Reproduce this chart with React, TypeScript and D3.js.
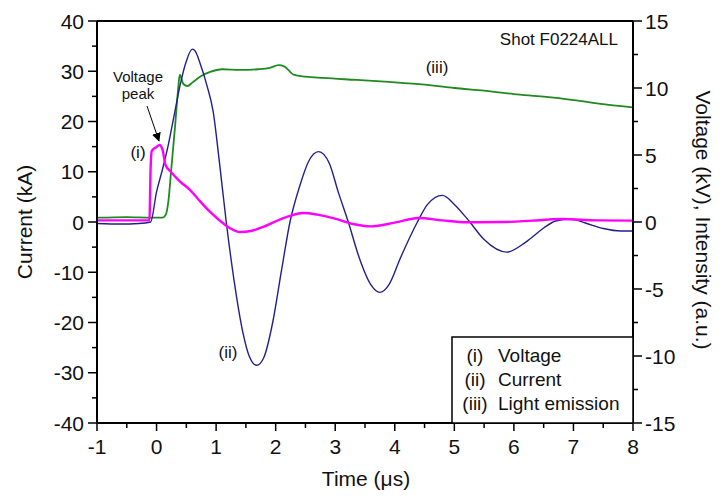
import React from "react";
import * as d3 from "d3";

// ---- data ----
const timeCurrent = [-1, -0.6, -0.3, -0.1, 0.0, 0.1, 0.2, 0.3, 0.4, 0.5, 0.6, 0.65, 0.73, 0.85, 0.95, 1.05, 1.17, 1.3, 1.45, 1.55, 1.68, 1.8, 1.95, 2.1, 2.24, 2.4, 2.55, 2.72, 2.9, 3.05, 3.22, 3.4, 3.6, 3.75, 3.9, 4.1, 4.38, 4.55, 4.8, 5.0, 5.26, 5.5, 5.88, 6.2, 6.5, 6.7, 6.95, 7.2, 7.5, 7.8, 8.0];
const current = [-0.3, -0.4, -0.3, 0, 6, 10.5, 15.5, 21.5, 27.5, 32, 34.4, 34, 31.6, 27, 22, 12.5, 0, -11.5, -22, -26.5, -28.5, -27, -20, -9.5, 0, 7, 12, 14, 11.7, 6, 0, -7, -12.5, -14, -12.5, -7, 0, 3.5, 5.3, 3.5, 0, -3.5, -6, -4, -1.2, 0.2, 0.6, -0.2, -1.3, -1.8, -1.8];

const timeVoltage = [-1, -0.5, -0.12, -0.1, -0.08, 0.0, 0.05, 0.1, 0.15, 0.25, 0.4, 0.56, 0.7, 0.9, 1.05, 1.23, 1.4, 1.6, 1.79, 2.0, 2.2, 2.46, 2.7, 3.0, 3.3, 3.6, 4.0, 4.4, 4.8, 5.2, 5.8, 6.3, 6.8, 7.4, 8.0];
const voltage = [0.12, 0.12, 0.12, 4.0, 5.3, 5.6, 5.75, 5.4, 4.25, 3.7, 3.0, 2.4, 1.7, 0.75, 0.15, -0.45, -0.75, -0.65, -0.37, 0.05, 0.4, 0.67, 0.55, 0.25, -0.15, -0.33, -0.05, 0.3, 0.12, -0.02, 0.0, 0.1, 0.22, 0.12, 0.1];

const timeLight = [-1, -0.5, -0.1, 0.1, 0.15, 0.2, 0.25, 0.31, 0.36, 0.39, 0.45, 0.52, 0.6, 0.75, 0.9, 1.1, 1.4, 1.7, 1.9, 2.05, 2.15, 2.3, 2.5, 2.8, 3.36, 3.9, 4.5, 5.0, 5.5, 6.0, 6.5, 7.0, 7.5, 8.0];
const light = [0.32, 0.37, 0.33, 0.33, 0.5, 1.6, 4.1, 7.1, 9.8, 11.0, 10.3, 10.15, 10.4, 10.9, 11.2, 11.4, 11.35, 11.4, 11.5, 11.7, 11.6, 11.0, 10.85, 10.75, 10.6, 10.45, 10.25, 10.0, 9.8, 9.55, 9.35, 9.1, 8.8, 8.55];

const xTicks = [-1, 0, 1, 2, 3, 4, 5, 6, 7, 8];
const leftTicks = [-40, -30, -20, -10, 0, 10, 20, 30, 40];
const rightTicks = [-15, -10, -5, 0, 5, 10, 15];
const legendTags = ["(i)", "(ii)", "(iii)"];
const legendNames = ["Voltage", "Current", "Light emission"];

const FONT = "'Liberation Sans', Arial, sans-serif";

export default function App() {
  const W = 723, H = 496;
  const L = 97, R = 633, T = 21, B = 423;
  const x = d3.scaleLinear().domain([-1, 8]).range([L, R]);
  const yL = d3.scaleLinear().domain([-40, 40]).range([B, T]);
  const yR = d3.scaleLinear().domain([-15, 15]).range([B, T]);

  const lineCurrent = d3.line<number>().x((_, i) => x(timeCurrent[i])).y((d) => yL(d)).curve(d3.curveMonotoneX);
  const lineVoltage = d3.line<number>().x((_, i) => x(timeVoltage[i])).y((d) => yR(d)).curve(d3.curveMonotoneX);
  const lineLight = d3.line<number>().x((_, i) => x(timeLight[i])).y((d) => yR(d)).curve(d3.curveMonotoneX);

  const xMinor = d3.range(-1, 8.001, 0.5).filter((v) => !xTicks.includes(v));
  const lMinor = d3.range(-40, 40.001, 5).filter((v) => !leftTicks.includes(v));
  const rMinor = d3.range(-15, 15.001, 2.5).filter((v) => !rightTicks.includes(v));

  return (
    <svg width={W} height={H} style={{ position: "absolute", left: 0, top: 0, background: "#fff" }} fontFamily={FONT}>
      <defs>
        <marker id="arr" viewBox="0 0 10 10" refX="9" refY="5" markerWidth="9" markerHeight="9" orient="auto" markerUnits="userSpaceOnUse">
          <path d="M0,0 L10,5 L0,10 z" fill="#000" />
        </marker>
        <clipPath id="clip"><rect x={L} y={T} width={R - L} height={B - T} /></clipPath>
      </defs>
      <rect x={0} y={0} width={W} height={H} fill="#fff" />

      {/* data */}
      <g clipPath="url(#clip)" fill="none">
        <path d={lineLight(light) || ""} stroke="#1f8a1f" strokeWidth={1.8} />
        <path d={lineCurrent(current) || ""} stroke="#20208c" strokeWidth={1.4} />
        <path d={lineVoltage(voltage) || ""} stroke="#ff00ff" strokeWidth={2.4} />
      </g>

      {/* frame */}
      <line x1={L} x2={R} y1={T} y2={T} stroke="#000" strokeWidth={2} />
      <line x1={L} x2={R} y1={B} y2={B} stroke="#000" strokeWidth={2} />
      <line x1={L} x2={L} y1={T} y2={B} stroke="#000" strokeWidth={2} />
      <line x1={R} x2={R} y1={T} y2={B} stroke="#000" strokeWidth={2} />

      {/* bottom axis */}
      {xTicks.map((v) => (
        <g key={"xt" + v}>
          <line x1={x(v)} x2={x(v)} y1={B} y2={B + 8} stroke="#000" strokeWidth={1.5} />
          <text x={x(v)} y={454} textAnchor="middle" fontSize={21} fill="#111">{v}</text>
        </g>
      ))}
      {xMinor.map((v) => (
        <line key={"xm" + v} x1={x(v)} x2={x(v)} y1={B} y2={B + 5} stroke="#000" strokeWidth={1.5} />
      ))}

      {/* left axis */}
      {leftTicks.map((v) => (
        <g key={"lt" + v}>
          <line x1={L - 9} x2={L} y1={yL(v)} y2={yL(v)} stroke="#000" strokeWidth={1.5} />
          <text x={84} y={yL(v) + 7.5} textAnchor="end" fontSize={21} fill="#111">{v}</text>
        </g>
      ))}
      {lMinor.map((v) => (
        <line key={"lm" + v} x1={L - 5} x2={L} y1={yL(v)} y2={yL(v)} stroke="#000" strokeWidth={1.5} />
      ))}

      {/* right axis */}
      {rightTicks.map((v) => (
        <g key={"rt" + v}>
          <line x1={R} x2={R + 9} y1={yR(v)} y2={yR(v)} stroke="#000" strokeWidth={1.5} />
          <text x={645} y={yR(v) + 7.5} textAnchor="start" fontSize={21} fill="#111">{v}</text>
        </g>
      ))}
      {rMinor.map((v) => (
        <line key={"rm" + v} x1={R} x2={R + 5} y1={yR(v)} y2={yR(v)} stroke="#000" strokeWidth={1.5} />
      ))}

      {/* axis titles */}
      <text x={366} y={486} textAnchor="middle" fontSize={21} fill="#111">Time (μs)</text>
      <text transform={`translate(32,222) rotate(-90)`} textAnchor="middle" fontSize={21} fill="#111">Current (kA)</text>
      <text transform={`translate(696,220) rotate(90)`} textAnchor="middle" fontSize={21} fill="#111">Voltage (kV), Intensity (a.u.)</text>

      {/* annotations */}
      <text x={618} y={45} textAnchor="end" fontSize={17} fill="#111">Shot F0224ALL</text>
      <text x={138} y={82} textAnchor="middle" fontSize={15} fill="#111">Voltage</text>
      <text x={138} y={99} textAnchor="middle" fontSize={15} fill="#111">peak</text>
      <line x1={147} y1={106} x2={159} y2={141} stroke="#000" strokeWidth={1} markerEnd="url(#arr)" />
      <text x={138} y={158} textAnchor="middle" fontSize={17} fill="#111">(i)</text>
      <text x={228} y={358} textAnchor="middle" fontSize={17} fill="#111">(ii)</text>
      <text x={437} y={73} textAnchor="middle" fontSize={17} fill="#111">(iii)</text>

      {/* legend */}
      <rect x={452} y={337} width={R - 452} height={B - 337} fill="#fff" stroke="#000" strokeWidth={1.5} />
      {legendTags.map((t, i) => (
        <g key={"lg" + i}>
          <text x={475} y={362 + i * 24} textAnchor="middle" fontSize={19} fill="#111">{t}</text>
          <text x={498} y={362 + i * 24} textAnchor="start" fontSize={19} fill="#111">{legendNames[i]}</text>
        </g>
      ))}
    </svg>
  );
}
